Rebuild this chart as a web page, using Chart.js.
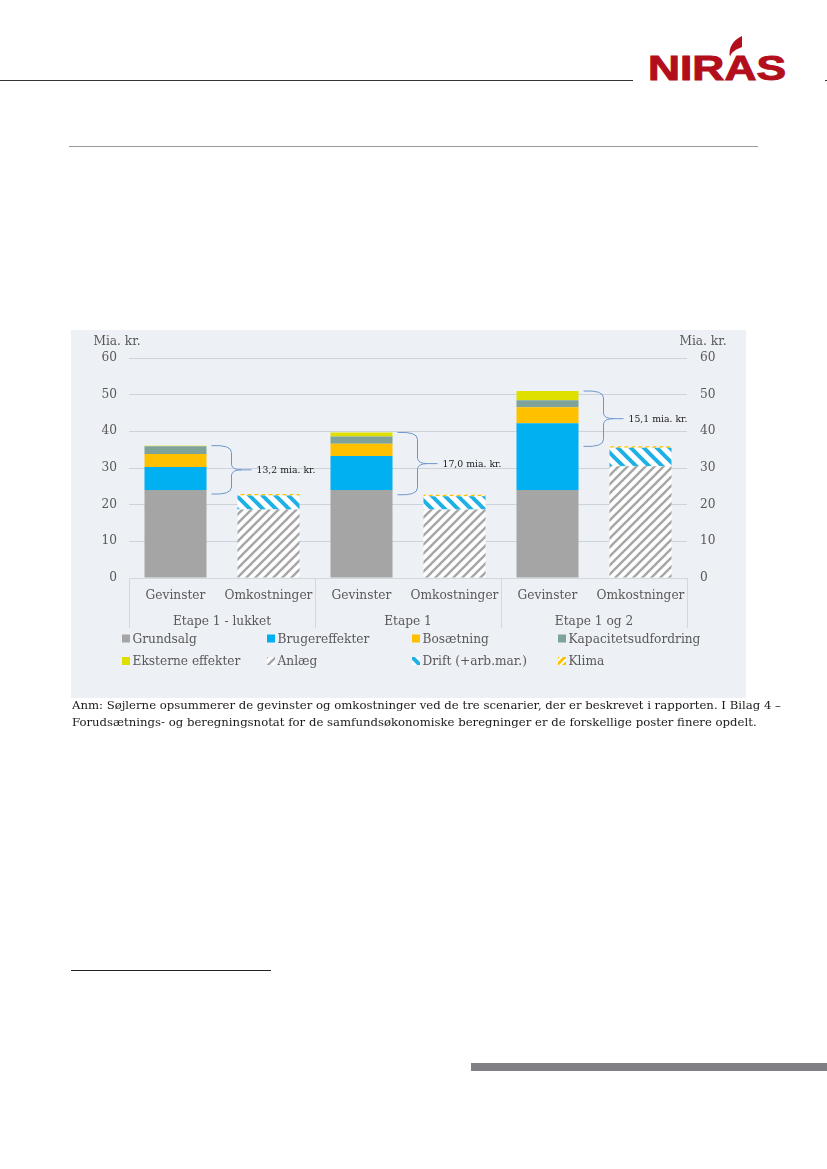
<!DOCTYPE html>
<html lang="da">
<head>
  <meta charset="UTF-8" />
  <title>Gevinster og omkostninger</title>
  <script src="https://cdn.jsdelivr.net/npm/chart.js@4"></script>
  <style>
    html, body { margin: 0; padding: 0; background: #fff; }
    #page { position: relative; width: 827px; height: 1169px; overflow: hidden; }
    .rule { position: absolute; }
    #panel { position: absolute; left: 71px; top: 330px; width: 675px; height: 368px; background: #edf0f4; }
    .note { position: absolute; left: 72px; white-space: nowrap; font-family: "DejaVu Serif", serif; font-size: 11.7px; color: #1a1a1a; line-height: 16px; }
    #logo { position: absolute; left: 640px; top: 30px; }
  </style>
</head>
<body>
<div id="page">
  <div class="rule" style="left:0;top:80px;width:633px;height:1px;background:#333"></div>
  <div class="rule" style="left:825px;top:80px;width:2px;height:1px;background:#333"></div>
  <svg id="logo" width="155" height="56" viewBox="0 0 155 56">
    <path d="M102 6 C93 10 88 18 90 27 C91 23 94 20 102 17 Z" fill="#b30e1c"/>
    <text x="8" y="50" font-family="Liberation Sans" font-weight="700" font-size="34.5" textLength="138" lengthAdjust="spacingAndGlyphs" fill="#b30e1c" stroke="#b30e1c" stroke-width="1">NIRAS</text>
  </svg>
  <div class="rule" style="left:69px;top:146px;width:689px;height:1px;background:#9a9a9a"></div>

  <div id="panel"><canvas id="chart" width="675" height="368"></canvas></div>

  <div class="note" style="top:697px">Anm: Søjlerne opsummerer de gevinster og omkostninger ved de tre scenarier, der er beskrevet i rapporten. I Bilag 4 –</div>
  <div class="note" style="top:714px">Forudsætnings- og beregningsnotat for de samfundsøkonomiske beregninger er de forskellige poster finere opdelt.</div>

  <div class="rule" style="left:71px;top:970px;width:200px;height:1px;background:#222"></div>
  <div class="rule" style="left:471px;top:1063px;width:356px;height:8px;background:#7f7f85"></div>
</div>

<script>
  const categories = ['Gevinster', 'Omkostninger', 'Gevinster', 'Omkostninger', 'Gevinster', 'Omkostninger'];
  const groups = ['Etape 1 - lukket', 'Etape 1', 'Etape 1 og 2'];
  const yTicks = [0, 10, 20, 30, 40, 50, 60];
  const unitLabel = 'Mia. kr.';

  const grundsalg = [24, 0, 24, 0, 24, 0];
  const brugereffekter = [6.3, 0, 9.3, 0, 18.2, 0];
  const bosaetning = [3.5, 0, 3.3, 0, 4.4, 0];
  const kapacitet = [2.1, 0, 2.0, 0, 1.9, 0];
  const eksterne = [0.2, 0, 1.1, 0, 2.5, 0];
  const anlaeg = [0, 18.7, 0, 18.7, 0, 30.5];
  const drift = [0, 3.8, 0, 3.6, 0, 5.0];
  const klima = [0, 0.4, 0, 0.4, 0, 0.4];

  const braceLabels = ['13,2 mia. kr.', '17,0 mia. kr.', '15,1 mia. kr.'];

  const textColor = '#595959';
  const serif = '"DejaVu Serif", serif';

  function stripes(size, lineW, color, bg, backslash) {
    const c = document.createElement('canvas');
    c.width = c.height = size;
    const g = c.getContext('2d');
    g.fillStyle = bg;
    g.fillRect(0, 0, size, size);
    g.strokeStyle = color;
    g.lineWidth = lineW;
    if (backslash) { g.translate(size, 0); g.scale(-1, 1); }
    for (let k = -1; k <= 1; k++) {
      g.beginPath();
      g.moveTo(k * size - 1, size + 1);
      g.lineTo(k * size + size + 1, -1);
      g.stroke();
    }
    return g.createPattern(c, 'repeat');
  }

  const ctx = document.getElementById('chart').getContext('2d');
  const anlaegFill = stripes(9, 2.4, '#a6a6a6', '#ffffff', false);
  const driftFill = stripes(13, 4, '#1fb0e6', '#ffffff', true);
  const klimaFill = stripes(7, 3, '#ffc000', '#ffffff', false);

  const datasets = [
    { label: 'Grundsalg', data: grundsalg, backgroundColor: '#a5a5a5' },
    { label: 'Brugereffekter', data: brugereffekter, backgroundColor: '#00b0f0' },
    { label: 'Bosætning', data: bosaetning, backgroundColor: '#ffc000' },
    { label: 'Kapacitetsudfordring', data: kapacitet, backgroundColor: '#7fa398' },
    { label: 'Eksterne effekter', data: eksterne, backgroundColor: '#dfdf00' },
    { label: 'Anlæg', data: anlaeg, backgroundColor: anlaegFill },
    { label: 'Drift (+arb.mar.)', data: drift, backgroundColor: driftFill },
    { label: 'Klima', data: klima, backgroundColor: klimaFill }
  ];

  function stackTotal(i) {
    return datasets.reduce((sum, d) => sum + d.data[i], 0);
  }

  // grupperne under akslen, legend og klammer tegnes her
  const extras = {
    id: 'extras',
    afterDraw(chart) {
      const c = chart.ctx;
      const y = chart.scales.y;
      const area = chart.chartArea;
      const step = (area.right - area.left) / categories.length;

      c.save();
      c.strokeStyle = '#d3d8de';
      c.lineWidth = 1;
      groups.forEach((g, i) => {
        const left = area.left + i * 2 * step;
        c.beginPath();
        c.moveTo(left + 0.5, area.bottom);
        c.lineTo(left + 0.5, area.bottom + 50);
        c.stroke();
      });
      c.beginPath();
      c.moveTo(area.right + 0.5, area.bottom);
      c.lineTo(area.right + 0.5, area.bottom + 50);
      c.stroke();

      c.fillStyle = textColor;
      c.font = '12.2px ' + serif;
      c.textAlign = 'center';
      c.textBaseline = 'middle';
      groups.forEach((g, i) => {
        c.fillText(g, area.left + (i * 2 + 1) * step, 292);
      });

      // enheder
      c.fillText(unitLabel, 46, 12);
      c.fillText(unitLabel, 632, 12);

      // legend, fire kolonner
      const colX = [51, 196, 341, 487];
      const rowY = [309.5, 332];
      c.textAlign = 'left';
      datasets.forEach((d, i) => {
        const lx = colX[i % 4];
        const ly = rowY[Math.floor(i / 4)];
        c.save();
        c.translate(lx, ly - 5);
        c.fillStyle = d.backgroundColor;
        c.fillRect(0, 0, 8, 8);
        c.restore();
        c.fillStyle = textColor;
        c.fillText(d.label, lx + 10.5, ly);
      });

      // klammer fra gevinst til omkostning
      braceLabels.forEach((text, i) => {
        const bar = chart.getDatasetMeta(0).data[i * 2];
        const x0 = bar.x + bar.width / 2 + 5;
        const x1 = x0 + 20;
        const x2 = x1 + 20;
        const top = y.getPixelForValue(stackTotal(i * 2));
        const bottom = y.getPixelForValue(stackTotal(i * 2 + 1));
        const mid = (top + bottom) / 2;
        c.strokeStyle = '#6d97cc';
        c.lineWidth = 1;
        c.beginPath();
        c.moveTo(x0, top);
        c.quadraticCurveTo(x1, top - 1, x1, top + 7);
        c.lineTo(x1, mid - 5);
        c.quadraticCurveTo(x1 + 1, mid, x1 + 10, mid);
        c.lineTo(x2, mid);
        c.moveTo(x1 + 10, mid);
        c.quadraticCurveTo(x1 + 1, mid, x1, mid + 5);
        c.lineTo(x1, bottom - 7);
        c.quadraticCurveTo(x1, bottom + 1, x0, bottom);
        c.stroke();
        c.fillStyle = '#1a1a1a';
        c.font = '9.3px ' + serif;
        c.fillText(text, x2 + 5, mid + 1);
      });
      c.restore();
    }
  };

  new Chart(ctx, {
    type: 'bar',
    data: { labels: categories, datasets },
    plugins: [extras],
    options: {
      responsive: false,
      animation: false,
      layout: { padding: { top: 28 } },
      datasets: { bar: { barPercentage: 0.667, categoryPercentage: 1, borderWidth: 0 } },
      plugins: { legend: { display: false }, tooltip: { enabled: false } },
      scales: {
        x: {
          stacked: true,
          afterFit(s) { s.height = 120; },
          grid: { display: false },
          border: { color: '#d3d8de' },
          ticks: { color: textColor, font: { family: serif, size: 12.2 }, padding: 3, maxRotation: 0, autoSkip: false }
        },
        y: {
          stacked: true,
          min: yTicks[0],
          max: yTicks[yTicks.length - 1],
          afterFit(s) { s.width = 58; },
          afterBuildTicks(s) { s.ticks = yTicks.map(v => ({ value: v })); },
          grid: { color: '#cdd3db', drawTicks: false },
          border: { display: false },
          ticks: { color: textColor, font: { family: serif, size: 12.2 }, padding: 12 }
        },
        y2: {
          position: 'right',
          min: yTicks[0],
          max: yTicks[yTicks.length - 1],
          afterFit(s) { s.width = 59; },
          afterBuildTicks(s) { s.ticks = yTicks.map(v => ({ value: v })); },
          grid: { display: false, drawTicks: false },
          border: { display: false },
          ticks: { color: textColor, font: { family: serif, size: 12.2 }, padding: 13 }
        }
      }
    }
  });
</script>
</body>
</html>
